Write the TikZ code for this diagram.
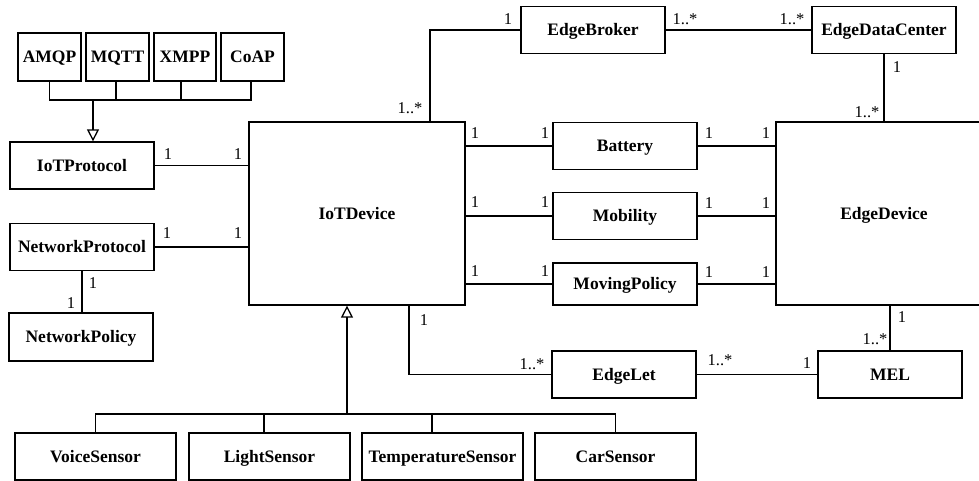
\documentclass[tikz,border=0pt]{standalone}
\usepackage{fontspec}
\setmainfont{Liberation Serif}
\usetikzlibrary{arrows.meta}
\begin{document}
\begin{tikzpicture}[x=1pt,y=-1pt,
  umlbox/.style={draw, line width=1.3pt, inner sep=0pt, align=center,
    text height=11.8pt, text depth=0pt,
    font=\bfseries\fontsize{17.5}{20}\selectfont},
  conn/.style={line width=1.3pt},
  mult/.style={inner sep=0pt, font=\fontsize{16.5}{18}\selectfont},
  inherit/.style={conn, -{Triangle[open,length=12pt,width=12pt]}}]
\useasboundingbox (0,0) rectangle (979,481);
\clip (0,0) rectangle (979,481);
\fill[white] (0,0) rectangle (979,481);

% protocol boxes
\node[umlbox, minimum width=63pt, minimum height=48pt] (amqp) at (49.5,57) {AMQP};
\node[umlbox, minimum width=63pt, minimum height=48pt] (mqtt) at (117.5,57) {MQTT};
\node[umlbox, minimum width=62pt, minimum height=48pt] (xmpp) at (185,57) {XMPP};
\node[umlbox, minimum width=63pt, minimum height=48pt] (coap) at (252.5,57) {CoAP};

\node[umlbox, minimum width=144pt, minimum height=47pt] (iotprot) at (82,165.5) {IoTProtocol};
\node[umlbox, minimum width=144pt, minimum height=47pt] (netprot) at (82,247) {NetworkProtocol};
\node[umlbox, minimum width=144pt, minimum height=48pt] (netpol) at (81,337) {NetworkPolicy};

\node[umlbox, minimum width=216pt, minimum height=183pt] (iotdev) at (357,213.5) {IoTDevice};
\node[umlbox, minimum width=216pt, minimum height=183pt] (edgedev) at (884,213.5) {EdgeDevice};

\node[umlbox, minimum width=144pt, minimum height=47pt] (broker) at (593,30) {EdgeBroker};
\node[umlbox, minimum width=144pt, minimum height=47pt] (edc) at (884,30) {EdgeDataCenter};

\node[umlbox, minimum width=144pt, minimum height=47pt] (battery) at (625,146) {Battery};
\node[umlbox, minimum width=144pt, minimum height=47pt] (mobility) at (625,216) {Mobility};
\node[umlbox, minimum width=144pt, minimum height=42pt] (movpol) at (625,284) {MovingPolicy};

\node[umlbox, minimum width=144pt, minimum height=47pt] (edgelet) at (624,374.5) {EdgeLet};
\node[umlbox, minimum width=144pt, minimum height=47pt] (mel) at (890,374.5) {MEL};

\node[umlbox, minimum width=161pt, minimum height=47pt] (voice) at (95.5,456.5) {VoiceSensor};
\node[umlbox, minimum width=161pt, minimum height=47pt] (light) at (269.5,456.5) {LightSensor};
\node[umlbox, minimum width=161pt, minimum height=47pt] (temp) at (442.5,456.5) {TemperatureSensor};
\node[umlbox, minimum width=161pt, minimum height=47pt] (car) at (615.5,456.5) {CarSensor};

% protocol generalization
\coordinate (pbar) at (93,100);
\draw[conn] (amqp.south) |- (pbar);
\draw[conn] ([xshift=-1.5pt]mqtt.south) |- (pbar);
\draw[conn] ([xshift=-4pt]xmpp.south) |- (pbar);
\draw[conn] ([xshift=-1.5pt]coap.south) |- (pbar);
\draw[inherit] (pbar) -- ([xshift=11pt]iotprot.north);

% sensor generalization
\coordinate (sbar) at (347,414);
\draw[conn] (voice.north) |- (sbar);
\draw[conn] ([xshift=-5.5pt]light.north) |- (sbar);
\draw[conn] ([xshift=-10.5pt]temp.north) |- (sbar);
\draw[conn] (car.north) |- (sbar);
\draw[inherit] (sbar) -- ([xshift=-10pt]iotdev.south);

% associations
\draw[conn] (iotprot.east) -- (iotprot.east -| iotdev.west);
\draw[conn] (netprot.east) -- (netprot.east -| iotdev.west);
\draw[conn] (netprot.south) -- (netprot.south |- netpol.north);
\draw[conn] ([xshift=73pt]iotdev.north) |- (broker.west);
\draw[conn] (broker.east) -- (edc.west);
\draw[conn] (edc.south) -- (edgedev.north);
\draw[conn] (battery.west) -- (battery.west -| iotdev.east);
\draw[conn] (battery.east) -- (battery.east -| edgedev.west);
\draw[conn] (mobility.west) -- (mobility.west -| iotdev.east);
\draw[conn] (mobility.east) -- (mobility.east -| edgedev.west);
\draw[conn] (movpol.west) -- (movpol.west -| iotdev.east);
\draw[conn] (movpol.east) -- (movpol.east -| edgedev.west);
\draw[conn] ([xshift=52pt]iotdev.south) |- (edgelet.west);
\draw[conn] (edgelet.east) -- (mel.west);
\draw[conn] (mel.north) -- (mel.north |- edgedev.south);

% multiplicities
\node[mult] (m1) at (168,154) {1};
\node[mult] (m2) at (238,154) {1};
\node[mult] (m3) at (167,233) {1};
\node[mult] (m4) at (238,233) {1};
\node[mult] (m5) at (93,283) {1};
\node[mult] (m6) at (71,303) {1};
\node[mult] (m7) at (410,108) {1..*};
\node[mult] (m8) at (508,19) {1};
\node[mult] (m9) at (685,19) {1..*};
\node[mult] (m10) at (792,19) {1..*};
\node[mult] (m11) at (897,67) {1};
\node[mult] (m12) at (867,112) {1..*};
\node[mult] (m13) at (475,133) {1};
\node[mult] (m14) at (545,133) {1};
\node[mult] (m15) at (709,133) {1};
\node[mult] (m16) at (766,133) {1};
\node[mult] (m17) at (475,202) {1};
\node[mult] (m18) at (545,202) {1};
\node[mult] (m19) at (709,203) {1};
\node[mult] (m20) at (766,203) {1};
\node[mult] (m21) at (475,271) {1};
\node[mult] (m22) at (545,271) {1};
\node[mult] (m23) at (709,272) {1};
\node[mult] (m24) at (766,272) {1};
\node[mult] (m25) at (424,320) {1};
\node[mult] (m26) at (532,364) {1..*};
\node[mult] (m27) at (720,360) {1..*};
\node[mult] (m28) at (807,363) {1};
\node[mult] (m29) at (902,317) {1};
\node[mult] (m30) at (875,339) {1..*};
\end{tikzpicture}
\end{document}
